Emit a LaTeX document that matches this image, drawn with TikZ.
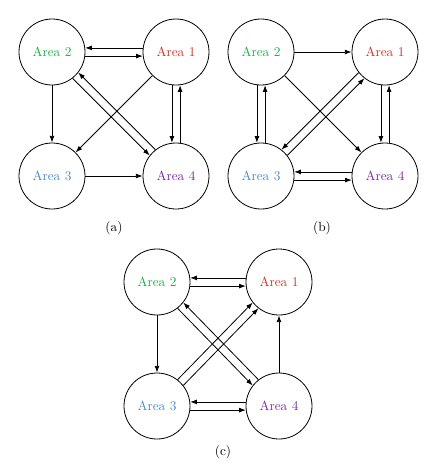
\documentclass[tikz,border=0pt]{standalone}
\usetikzlibrary{arrows.meta}
\definecolor{areared}{HTML}{C8372D}
\definecolor{areagreen}{HTML}{1FAF4B}
\definecolor{areablue}{HTML}{4A8BC9}
\definecolor{areapurple}{HTML}{7E2BA6}
\tikzset{area/.style={circle, draw, line width=0.6pt, minimum size=49.5pt, inner sep=0pt}}

\begin{document}
\begin{tikzpicture}[x=0.75pt, y=-0.75pt, >={Latex[length=5pt,width=3.6pt]}, line width=0.6pt]
        \useasboundingbox (0,0) rectangle (446,465);
        % Panel (a)
        \node[area, text=areared] (a1) at (176,52) {Area 1};
        \node[area, text=areagreen] (a2) at (52,52) {Area 2};
        \node[area, text=areablue] (a3) at (52,176) {Area 3};
        \node[area, text=areapurple] (a4) at (176,176) {Area 4};
        \node (la) at (114,228) {(a)};
        \draw[->] (a1.173) -- (a2.7);
        \draw[->] (a2.-7) -- (a1.187);
        \draw[->] (a2.south) -- (a3.north);
        \draw[->] (a1.225) -- (a3.45);
        \draw[->] (a4.128) -- (a2.-38);
        \draw[->] (a2.-52) -- (a4.142);
        \draw[->] (a1.263) -- (a4.97);
        \draw[->] (a4.83) -- (a1.277);
        \draw[->] (a3.east) -- (a4.west);
        % Panel (b)
        \node[area, text=areared] (b1) at (385,52) {Area 1};
        \node[area, text=areagreen] (b2) at (261,52) {Area 2};
        \node[area, text=areablue] (b3) at (261,176) {Area 3};
        \node[area, text=areapurple] (b4) at (385,176) {Area 4};
        \node (lb) at (322,228) {(b)};
        \draw[->] (b2.east) -- (b1.west);
        \draw[->] (b2.263) -- (b3.97);
        \draw[->] (b3.83) -- (b2.277);
        \draw[->] (b1.218) -- (b3.52);
        \draw[->] (b3.38) -- (b1.232);
        \draw[->] (b2.-45) -- (b4.135);
        \draw[->] (b1.263) -- (b4.97);
        \draw[->] (b4.83) -- (b1.277);
        \draw[->] (b4.173) -- (b3.7);
        \draw[->] (b3.-7) -- (b4.187);
        % Panel (c)
        \node[area, text=areared] (c1) at (279,282) {Area 1};
        \node[area, text=areagreen] (c2) at (157,282) {Area 2};
        \node[area, text=areablue] (c3) at (157,406) {Area 3};
        \node[area, text=areapurple] (c4) at (279,406) {Area 4};
        \node (lc) at (223,452) {(c)};
        \draw[->] (c1.173) -- (c2.7);
        \draw[->] (c2.-7) -- (c1.187);
        \draw[->] (c2.south) -- (c3.north);
        \draw[->] (c4.128) -- (c2.-38);
        \draw[->] (c2.-52) -- (c4.142);
        \draw[->] (c3.52) -- (c1.218);
        \draw[->] (c3.38) -- (c1.232);
        \draw[->] (c4.north) -- (c1.south);
        \draw[->] (c4.173) -- (c3.7);
        \draw[->] (c3.-7) -- (c4.187);
      \end{tikzpicture}
\end{document}
